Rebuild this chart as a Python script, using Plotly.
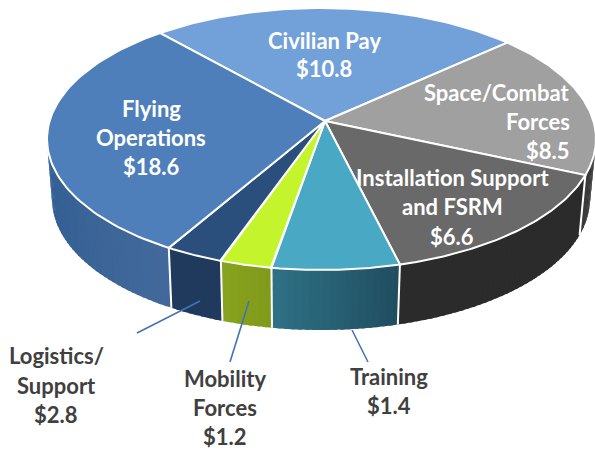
import numpy as np
import plotly.graph_objects as go

# Categories and their printed dollar labels
categories = ["Civilian Pay", "Space/Combat Forces", "Installation Support and FSRM",
              "Training", "Mobility Forces", "Logistics/Support", "Flying Operations"]
dollar_labels = [10.8, 8.5, 6.6, 1.4, 1.2, 2.8, 18.6]
# Slice sizes as drawn in the picture (they differ from the printed labels), in degrees
drawn_degrees = [78.6, 63.4, 57.4, 27.1, 11.0, 12.3, 110.2]
top_colors = ["#72a0d9", "#a0a0a0", "#696969", "#49a9c4", "#c4f52c", "#2b4f7c", "#4f7fba"]
wall_left = ["#72a0d9", "#3a3a3a", "#2b2b2b", "#2f7186", "#88a31e", "#1f3a5c", "#305d92"]
wall_right = ["#72a0d9", "#3a3a3a", "#2b2b2b", "#1f4d5e", "#7f991a", "#1f3a5c", "#43699b"]
start_degree = -36.0

W, H = 595, 450
APEX = (325, 121)
CX, CY, RX, RY = 321.5, 139, 274.5, 131
BCX, BCY, BRX, BRY = 321, 199, 269, 131


def top(t):
    r = np.radians(t)
    return CX + RX * np.sin(r), CY - RY * np.cos(r)


def bottom(t):
    r = np.radians(t)
    return BCX + BRX * np.sin(r), BCY - BRY * np.cos(r)


def mix(a, b, f):
    ca = [int(a[i:i + 2], 16) for i in (1, 3, 5)]
    cb = [int(b[i:i + 2], 16) for i in (1, 3, 5)]
    return "rgb(%d,%d,%d)" % tuple(round(x + (y - x) * f) for x, y in zip(ca, cb))


fig = go.Figure()


def poly(x, y, fill, line="rgba(0,0,0,0)", width=0, closed=True):
    fig.add_trace(go.Scatter(
        x=list(x), y=list(y), mode="lines", fill="toself" if closed else None,
        fillcolor=fill if closed else None,
        line=dict(color=line, width=width), hoverinfo="skip", showlegend=False))


edges = start_degree + np.concatenate([[0], np.cumsum(drawn_degrees)])

# side walls (only the part facing the viewer), as thin gradient strips
for i in range(len(categories)):
    a, b = max(edges[i], 90.0), min(edges[i + 1], 270.0)
    if b <= a:
        continue
    n = max(int((b - a) / 1.5), 4)
    grid = np.linspace(a, b, n + 1)
    # larger angle is further left on screen in the lower half
    for j in range(n):
        f = 1 - (j + 0.5) / n
        lo = max(grid[j] - 0.4, a)
        hi = min(grid[j + 1] + 0.4, b)
        tx0, ty0 = top(lo)
        tx1, ty1 = top(hi)
        bx1, by1 = bottom(hi)
        bx0, by0 = bottom(lo)
        poly([tx0, tx1, bx1, bx0, tx0], [ty0, ty1, by1, by0, ty0], mix(wall_left[i], wall_right[i], f))

# white separators on the wall
for e in edges:
    t = e % 360
    if 90 < t < 270:
        tx, ty = top(t)
        bx, by = bottom(t)
        poly([tx, bx], [ty, by], None, "white", 2, closed=False)

# top face
for i in range(len(categories)):
    grid = np.linspace(edges[i], edges[i + 1], 80)
    xs, ys = top(grid)
    poly([APEX[0], *xs, APEX[0]], [APEX[1], *ys, APEX[1]], top_colors[i], "white", 2)

# leader lines
leader_color = "#4472b4"
for (x0, y0, x1, y1) in [(137, 333, 200, 301), (230, 362, 249, 301), (368, 362, 352, 330)]:
    poly([x0, x1], [y0, y1], None, leader_color, 1.6, closed=False)

# labels
WHITE, DARK = "white", "#404040"
labels = [
    (["Civilian Pay", f"${dollar_labels[0]}"], 324, [40, 68], WHITE, "center"),
    (["Space/Combat", "Forces", f"${dollar_labels[1]}"], 572, [92, 121, 150], WHITE, "right"),
    (["Installation Support", "and FSRM", f"${dollar_labels[2]}"], 452, [177, 206, 236], WHITE, "center"),
    (["Training", f"${dollar_labels[3]}"], 389, [376, 405], DARK, "center"),
    (["Mobility", "Forces", f"${dollar_labels[4]}"], 225, [378, 407, 436], DARK, "center"),
    (["Logistics/", "Support", f"${dollar_labels[5]}"], 56, [355, 385, 414], DARK, "center"),
    (["Flying", "Operations", f"${dollar_labels[6]}"], 151, [108, 137, 166], WHITE, "center"),
]
for lines, x, ys, color, align in labels:
    for text, y in zip(lines, ys):
        fig.add_annotation(x=x, y=y, text=f"<b>{text}</b>", showarrow=False,
                           xanchor=align, yanchor="middle",
                           font=dict(family="Lato", size=22, color=color))

fig.update_layout(
    width=W, height=H, margin=dict(l=0, r=0, t=0, b=0),
    paper_bgcolor="white", plot_bgcolor="white", showlegend=False,
    xaxis=dict(range=[0, W], visible=False, fixedrange=True),
    yaxis=dict(range=[H, 0], visible=False, fixedrange=True),
)
fig.write_html("out.html", config={"displayModeBar": False},
               post_script="document.body.style.margin='0';document.body.style.overflow='hidden';")
